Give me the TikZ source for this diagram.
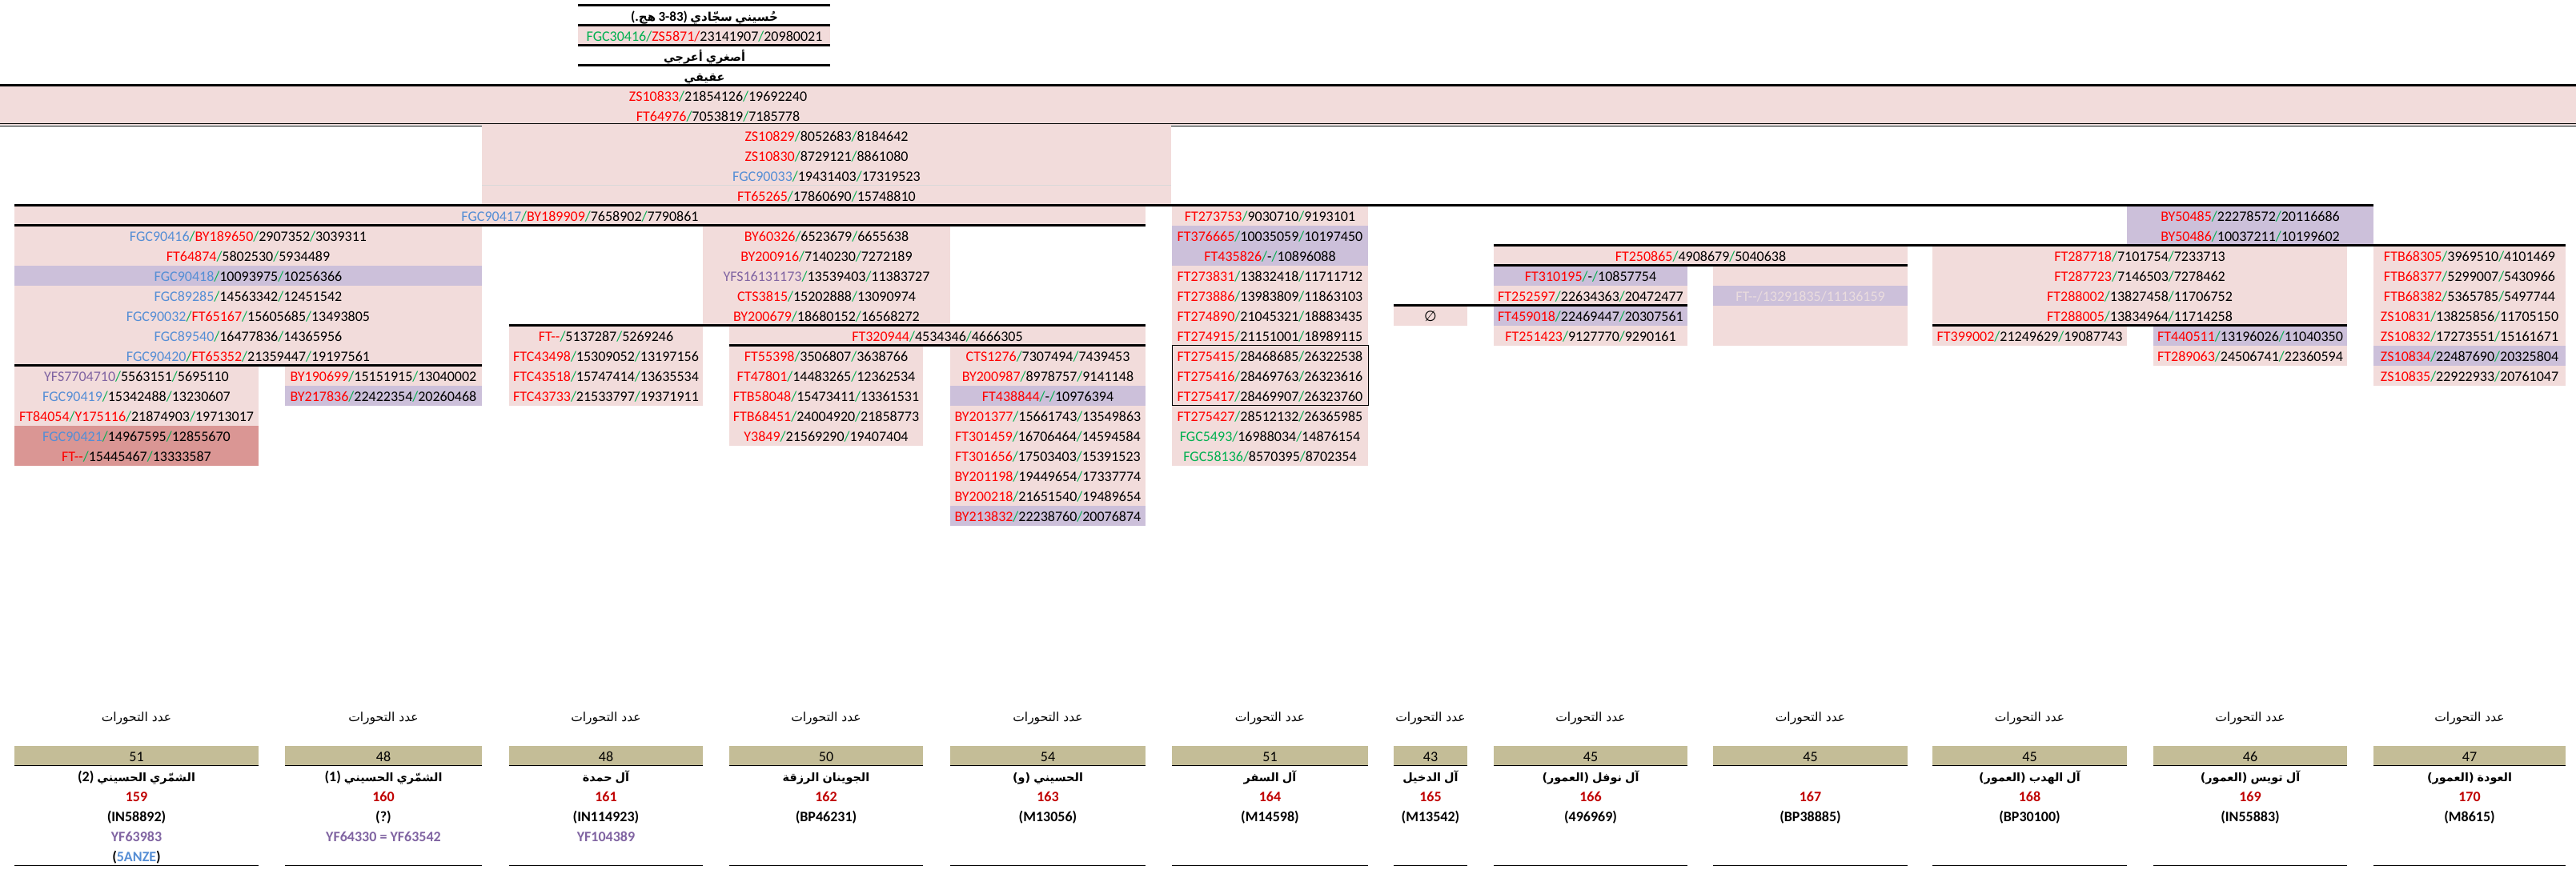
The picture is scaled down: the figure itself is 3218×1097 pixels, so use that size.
\documentclass[tikz,border=0pt]{standalone}
\usepackage{fontspec}
\setmainfont{Carlito}
\newfontfamily\arf[Script=Arabic]{DejaVu Sans}
\newfontfamily\arfs[Script=Arabic,Scale=0.8]{DejaVu Sans}
\newfontfamily\symf{DejaVu Sans}
\TeXXeTstate=1
\definecolor{pk}{HTML}{F2DCDB}
\definecolor{lv}{HTML}{CCC0DA}
\definecolor{drs}{HTML}{DA9694}
\definecolor{tanc}{HTML}{C4BD97}
\definecolor{cR}{HTML}{FF0000}
\definecolor{cB}{HTML}{558ED5}
\definecolor{cG}{HTML}{00B050}
\definecolor{cP}{HTML}{8064A2}
\definecolor{cD}{HTML}{C00000}
\definecolor{cL}{HTML}{EADCDE}
\newcommand\snpS{\textcolor{cG}{/}}
\newcommand\snpR[1]{\textcolor{cR}{#1}}
\newcommand\snpB[1]{\textcolor{cB}{#1}}
\newcommand\snpG[1]{\textcolor{cG}{#1}}
\newcommand\snpP[1]{\textcolor{cP}{#1}}
\tikzset{
 txt/.style={font=\fontsize{18}{20}\selectfont,inner sep=0pt,anchor=base},
 txtb/.style={font=\fontsize{18}{20}\selectfont\bfseries,inner sep=0pt,anchor=base},
 arr/.style={font=\fontsize{15.5}{17}\selectfont,inner sep=0pt,anchor=base},
 arb/.style={font=\fontsize{18}{20}\selectfont\bfseries,inner sep=0pt,anchor=base},
 thk/.style={line width=2.7pt},
 thn/.style={line width=1pt},
}
% background of rows r1..r2 between x1 and x2
\newcommand\cellbg[5]{\fill[#5] (#1,{6.5+25*(#3-1)}) rectangle (#2,{6.5+25*#4});}
% text of row r centred at x
\newcommand\celltx[4]{\node[txt] (#1) at (#2,{26.5+25*(#3-1)}) {#4};}
% horizontal border
\newcommand\hb[4][thk]{\draw[#1] (#2,#4) -- (#3,#4);}
% bottom column
\newcommand\bcol[6]{%
 \node[arr] (#1h) at ({(#2+#3)/2},{26.5+25*35}) {\beginR{\arf عدد التحورات}\endR};
 \fill[tanc] (#2,931.5) rectangle (#3,956.5);
 \node[txt] (#1c) at ({(#2+#3)/2},{26.5+25*37}) {#4};
 \draw[thn] (#2,956.5) -- (#3,956.5);
 \node[txtb,text=cD] (#1r) at ({(#2+#3)/2},{26.5+25*39}) {#5};
 \node[txtb] (#1k) at ({(#2+#3)/2},{26.5+25*40}) {#6};
 \draw[thn] (#2,1081.5) -- (#3,1081.5);}
\newcommand\bname[3]{\node[arb] (#1n) at (#2,{26.5+25*38}) {#3};}
\begin{document}
\begin{tikzpicture}[x=1pt,y=-1pt]
\useasboundingbox (0,0) rectangle (3218,1097);
\fill[white] (0,0) rectangle (3218,1097);
% ---------------- header
\cellbg{722}{1037}{2}{2}{pk}
\node[arb,font=\fontsize{15}{17}\selectfont\bfseries] (title) at (880,26.5) {\beginR{\arf حُسيني} {\arf سجّادي} {\fontsize{17}{19}\selectfont 3-83)} {\arf هج}{\fontsize{17}{19}\selectfont (.}\endR};
\celltx{h2}{880}{2}{\snpG{FGC30416/}\snpR{ZS5871/}23141907\snpS 20980021}
\node[arb] (h3) at (880,{26.5+25*2}) {\beginR{\arfs أصغري} {\arfs أعرجي}\endR};
\node[arb] (h4) at (880,{26.5+25*3}) {\beginR{\arfs عقيقي}\endR};
\hb{722}{1037}{6.5}\hb{722}{1037}{31.5}\hb{722}{1037}{56.5}\hb{722}{1037}{81.5}
% ---------------- band
\cellbg{0}{3218}{5}{6}{pk}
\hb{0}{3218}{106.5}
\hb[thn]{0}{3218}{154.7}\hb[thn]{0}{3218}{157.6}
\celltx{r5}{897}{5}{\snpR{ZS10833}\snpS 21854126\snpS 19692240}
\celltx{r6}{897}{6}{\snpR{FT64976}\snpS 7053819\snpS 7185778}
% ---------------- rows 7-10
\cellbg{602}{1463}{7}{10}{pk}
\draw[line width=0.8pt,black!15] (602,231.5) -- (1463,231.5);
\celltx{r7}{1032.5}{7}{\snpR{ZS10829}\snpS 8052683\snpS 8184642}
\celltx{r8}{1032.5}{8}{\snpR{ZS10830}\snpS 8729121\snpS 8861080}
\celltx{r9}{1032.5}{9}{\snpB{FGC90033}\snpS 19431403\snpS 17319523}
\celltx{r10}{1032.5}{10}{\snpR{FT65265}\snpS 17860690\snpS 15748810}
% ---------------- row 11 left
\cellbg{18}{1431}{11}{11}{pk}
\celltx{r11}{724.5}{11}{\snpB{FGC90417}\snpS\snpR{BY189909}\snpS 7658902\snpS 7790861}
% ---------------- c1c2 block
\cellbg{18}{602}{12}{18}{pk}
\cellbg{18}{602}{14}{14}{lv}
\celltx{a12}{310}{12}{\snpB{FGC90416}\snpS\snpR{BY189650}\snpS 2907352\snpS 3039311}
\celltx{a13}{310}{13}{\snpR{FT64874}\snpS 5802530\snpS 5934489}
\celltx{a14}{310}{14}{\snpB{FGC90418}\snpS 10093975\snpS 10256366}
\celltx{a15}{310}{15}{\snpB{FGC89285}\snpS 14563342\snpS 12451542}
\celltx{a16}{310}{16}{\snpB{FGC90032}\snpS\snpR{FT65167}\snpS 15605685\snpS 13493805}
\celltx{a17}{310}{17}{\snpB{FGC89540}\snpS 16477836\snpS 14365956}
\celltx{a18}{310}{18}{\snpB{FGC90420}\snpS\snpR{FT65352}\snpS 21359447\snpS 19197561}
% c1
\cellbg{18}{323}{19}{21}{pk}
\cellbg{18}{323}{22}{23}{drs}
\celltx{b19}{170.5}{19}{\snpP{YFS7704710}\snpS 5563151\snpS 5695110}
\celltx{b20}{170.5}{20}{\snpB{FGC90419}\snpS 15342488\snpS 13230607}
\celltx{b21}{170.5}{21}{\snpR{FT84054}\snpS\snpR{Y175116}\snpS 21874903\snpS 19713017}
\celltx{b22}{170.5}{22}{\snpB{FGC90421}\snpS 14967595\snpS 12855670}
\celltx{b23}{170.5}{23}{\snpR{FT-{}-}\snpS 15445467\snpS 13333587}
% c2
\cellbg{356}{602}{19}{19}{pk}
\cellbg{356}{602}{20}{20}{lv}
\celltx{c19}{479}{19}{\snpR{BY190699}\snpS 15151915\snpS 13040002}
\celltx{c20}{479}{20}{\snpR{BY217836}\snpS 22422354\snpS 20260468}
% ---------------- BY60326 block
\cellbg{878}{1187}{12}{16}{pk}
\celltx{d12}{1032.5}{12}{\snpR{BY60326}\snpS 6523679\snpS 6655638}
\celltx{d13}{1032.5}{13}{\snpR{BY200916}\snpS 7140230\snpS 7272189}
\celltx{d14}{1032.5}{14}{\snpP{YFS16131173}\snpS 13539403\snpS 11383727}
\celltx{d15}{1032.5}{15}{\snpR{CTS3815}\snpS 15202888\snpS 13090974}
\celltx{d16}{1032.5}{16}{\snpR{BY200679}\snpS 18680152\snpS 16568272}
% c3
\cellbg{636}{878}{17}{20}{pk}
\celltx{e17}{757}{17}{\snpR{FT-{}-}\snpS 5137287\snpS 5269246}
\celltx{e18}{757}{18}{\snpR{FTC43498}\snpS 15309052\snpS 13197156}
\celltx{e19}{757}{19}{\snpR{FTC43518}\snpS 15747414\snpS 13635534}
\celltx{e20}{757}{20}{\snpR{FTC43733}\snpS 21533797\snpS 19371911}
% FT320944
\cellbg{911}{1431}{17}{17}{pk}
\celltx{f17}{1171}{17}{\snpR{FT320944}\snpS 4534346\snpS 4666305}
% c4
\cellbg{911}{1153}{18}{22}{pk}
\celltx{g18}{1032}{18}{\snpR{FT55398}\snpS 3506807\snpS 3638766}
\celltx{g19}{1032}{19}{\snpR{FT47801}\snpS 14483265\snpS 12362534}
\celltx{g20}{1032}{20}{\snpR{FTB58048}\snpS 15473411\snpS 13361531}
\celltx{g21}{1032}{21}{\snpR{FTB68451}\snpS 24004920\snpS 21858773}
\celltx{g22}{1032}{22}{\snpR{Y3849}\snpS 21569290\snpS 19407404}
% c5
\cellbg{1187}{1431}{18}{26}{pk}
\cellbg{1187}{1431}{20}{20}{lv}
\cellbg{1187}{1431}{26}{26}{lv}
\celltx{h18}{1309}{18}{\snpR{CTS1276}\snpS 7307494\snpS 7439453}
\celltx{h19}{1309}{19}{\snpR{BY200987}\snpS 8978757\snpS 9141148}
\celltx{h20}{1309}{20}{\snpR{FT438844}\snpS-\snpS 10976394}
\celltx{h21}{1309}{21}{\snpR{BY201377}\snpS 15661743\snpS 13549863}
\celltx{h22}{1309}{22}{\snpR{FT301459}\snpS 16706464\snpS 14594584}
\celltx{h23}{1309}{23}{\snpR{FT301656}\snpS 17503403\snpS 15391523}
\celltx{h24}{1309}{24}{\snpR{BY201198}\snpS 19449654\snpS 17337774}
\celltx{h25}{1309}{25}{\snpR{BY200218}\snpS 21651540\snpS 19489654}
\celltx{h26}{1309}{26}{\snpR{BY213832}\snpS 22238760\snpS 20076874}
% c6
\cellbg{1464}{1709}{11}{23}{pk}
\cellbg{1464}{1709}{12}{13}{lv}
\celltx{i11}{1586.5}{11}{\snpR{FT273753}\snpS 9030710\snpS 9193101}
\celltx{i12}{1586.5}{12}{\snpR{FT376665}\snpS 10035059\snpS 10197450}
\celltx{i13}{1586.5}{13}{\snpR{FT435826}\snpS-\snpS 10896088}
\celltx{i14}{1586.5}{14}{\snpR{FT273831}\snpS 13832418\snpS 11711712}
\celltx{i15}{1586.5}{15}{\snpR{FT273886}\snpS 13983809\snpS 11863103}
\celltx{i16}{1586.5}{16}{\snpR{FT274890}\snpS 21045321\snpS 18883435}
\celltx{i17}{1586.5}{17}{\snpR{FT274915}\snpS 21151001\snpS 18989115}
\celltx{i18}{1586.5}{18}{\snpR{FT275415}\snpS 28468685\snpS 26322538}
\celltx{i19}{1586.5}{19}{\snpR{FT275416}\snpS 28469763\snpS 26323616}
\celltx{i20}{1586.5}{20}{\snpR{FT275417}\snpS 28469907\snpS 26323760}
\celltx{i21}{1586.5}{21}{\snpR{FT275427}\snpS 28512132\snpS 26365985}
\celltx{i22}{1586.5}{22}{\snpG{FGC5493}\snpS 16988034\snpS 14876154}
\celltx{i23}{1586.5}{23}{\snpG{FGC58136}\snpS 8570395\snpS 8702354}
\draw[line width=1pt] (1464,431.5) rectangle (1709,506.5);
% BY50485
\cellbg{2657}{2965}{11}{12}{lv}
\celltx{j11}{2811}{11}{\snpR{BY50485}\snpS 22278572\snpS 20116686}
\celltx{j12}{2811}{12}{\snpR{BY50486}\snpS 10037211\snpS 10199602}
% FT250865
\cellbg{1866}{2383}{13}{13}{pk}
\celltx{k13}{2124.5}{13}{\snpR{FT250865}\snpS 4908679\snpS 5040638}
% c8
\cellbg{1866}{2108}{14}{17}{pk}
\cellbg{1866}{2108}{14}{14}{lv}
\cellbg{1866}{2108}{16}{16}{lv}
\celltx{l14}{1987}{14}{\snpR{FT310195}\snpS-\snpS 10857754}
\celltx{l15}{1987}{15}{\snpR{FT252597}\snpS 22634363\snpS 20472477}
\celltx{l16}{1987}{16}{\snpR{FT459018}\snpS 22469447\snpS 20307561}
\celltx{l17}{1987}{17}{\snpR{FT251423}\snpS 9127770\snpS 9290161}
% c7
\cellbg{1741}{1833}{16}{16}{pk}
\celltx{m16}{1787}{16}{{\symf ∅}}
% c9
\cellbg{2140}{2383}{14}{17}{pk}
\cellbg{2140}{2383}{15}{15}{lv}
\celltx{n15}{2261.5}{15}{\textcolor{cL}{FT-{}-/13291835/11136159}}
% FT287718 block
\cellbg{2414}{2932}{13}{16}{pk}
\celltx{o13}{2673}{13}{\snpR{FT287718}\snpS 7101754\snpS 7233713}
\celltx{o14}{2673}{14}{\snpR{FT287723}\snpS 7146503\snpS 7278462}
\celltx{o15}{2673}{15}{\snpR{FT288002}\snpS 13827458\snpS 11706752}
\celltx{o16}{2673}{16}{\snpR{FT288005}\snpS 13834964\snpS 11714258}
\cellbg{2414}{2657}{17}{17}{pk}
\celltx{p17}{2535.5}{17}{\snpR{FT399002}\snpS 21249629\snpS 19087743}
\cellbg{2690}{2932}{17}{17}{lv}
\cellbg{2690}{2932}{18}{18}{pk}
\celltx{q17}{2811}{17}{\snpR{FT440511}\snpS 13196026\snpS 11040350}
\celltx{q18}{2811}{18}{\snpR{FT289063}\snpS 24506741\snpS 22360594}
% c12
\cellbg{2965}{3205}{13}{19}{pk}
\cellbg{2965}{3205}{18}{18}{lv}
\celltx{s13}{3085}{13}{\snpR{FTB68305}\snpS 3969510\snpS 4101469}
\celltx{s14}{3085}{14}{\snpR{FTB68377}\snpS 5299007\snpS 5430966}
\celltx{s15}{3085}{15}{\snpR{FTB68382}\snpS 5365785\snpS 5497744}
\celltx{s16}{3085}{16}{\snpR{ZS10831}\snpS 13825856\snpS 11705150}
\celltx{s17}{3085}{17}{\snpR{ZS10832}\snpS 17273551\snpS 15161671}
\celltx{s18}{3085}{18}{\snpR{ZS10834}\snpS 22487690\snpS 20325804}
\celltx{s19}{3085}{19}{\snpR{ZS10835}\snpS 22922933\snpS 20761047}
% ---------------- tree borders
\hb{18}{2965}{256.5}
\hb{18}{1431}{281.5}
\hb{18}{602}{456.5}
\hb{636}{1431}{406.5}
\hb{911}{1431}{431.5}
\hb{1866}{3205}{306.5}
\hb{1866}{2383}{331.5}
\hb{1741}{2108}{381.5}
\hb{2414}{2932}{406.5}
% ---------------- bottom columns
\bcol{k1}{18}{323}{51}{159}{(IN58892)}
\bcol{k2}{356}{602}{48}{160}{(?)}
\bcol{k3}{636}{878}{48}{161}{(IN114923)}
\bcol{k4}{911}{1153}{50}{162}{(BP46231)}
\bcol{k5}{1187}{1431}{54}{163}{(M13056)}
\bcol{k6}{1464}{1709}{51}{164}{(M14598)}
\bcol{k7}{1741}{1833}{43}{165}{(M13542)}
\bcol{k8}{1866}{2108}{45}{166}{(496969)}
\bcol{k9}{2140}{2383}{45}{167}{(BP38885)}
\bcol{k10}{2414}{2657}{45}{168}{(BP30100)}
\bcol{k11}{2690}{2932}{46}{169}{(IN55883)}
\bcol{k12}{2965}{3205}{47}{170}{(M8615)}
\bname{k1}{170.5}{\beginR{\arfs الشمّري} {\arfs الحسيني} (2)\endR}
\bname{k2}{479}{\beginR{\arfs الشمّري} {\arfs الحسيني} (1)\endR}
\bname{k3}{757}{\beginR{\arfs آل} {\arfs حمدة}\endR}
\bname{k4}{1032}{\beginR{\arfs الجوينان} {\arfs الرزقة}\endR}
\bname{k5}{1309}{\beginR{\arfs الحسيني} {\arfs (و)}\endR}
\bname{k6}{1586.5}{\beginR{\arfs آل} {\arfs السفر}\endR}
\bname{k7}{1787}{\beginR{\arfs آل} {\arfs الدخيل}\endR}
\bname{k8}{1987}{\beginR{\arfs آل} {\arfs نوفل} {\arfs (العمور)}\endR}
\bname{k10}{2535.5}{\beginR{\arfs آل} {\arfs الهدب} {\arfs (العمور)}\endR}
\bname{k11}{2811}{\beginR{\arfs آل} {\arfs تويس} {\arfs (العمور)}\endR}
\bname{k12}{3085}{\beginR{\arfs العودة} {\arfs (العمور)}\endR}
\node[txtb,text=cP] (k1y) at (170.5,{26.5+25*41}) {YF63983};
\node[txtb] (k1z) at (170.5,{26.5+25*42}) {(\textcolor{cB}{5ANZE})};
\node[txtb,text=cP] (k2y) at (479,{26.5+25*41}) {YF64330 = YF63542};
\node[txtb,text=cP] (k3y) at (757,{26.5+25*41}) {YF104389};
\end{tikzpicture}
\end{document}
